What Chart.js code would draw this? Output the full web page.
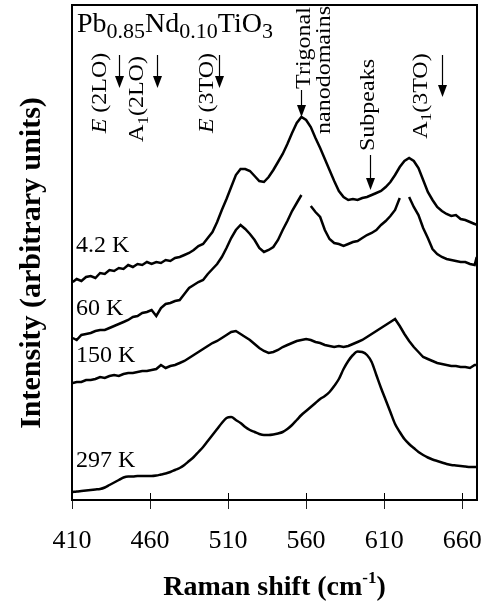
<!DOCTYPE html>
<html>
<head>
<meta charset="utf-8">
<title>Raman spectra Pb0.85Nd0.10TiO3</title>
<script src="https://cdn.jsdelivr.net/npm/chart.js@4.4.0/dist/chart.umd.min.js"></script>
<style>
    html, body { margin: 0; padding: 0; background: #fff; }
    #wrap { width: 482px; height: 610px; }
</style>
</head>
<body>
<div id="wrap"><canvas id="ramanChart"></canvas></div>
<script>
// Raman shift (cm-1) sample points, shared by all four spectra
const shiftCm = [410.5, 413, 416, 419, 422, 425, 428, 431, 434, 437, 440, 443, 446, 449, 452, 455, 458, 461, 464, 467,
    470, 473, 476, 479, 482, 485, 488, 491, 494, 497, 500, 503, 506, 509, 512, 515, 518, 521, 524, 527,
    530, 533, 536, 539, 542, 545, 548, 551, 554, 557, 560, 563, 566, 569, 572, 575, 578, 581, 584, 587,
    590, 593, 596, 599, 602, 605, 608, 611, 614, 617, 620, 623, 626, 629, 632, 635, 638, 641, 644, 647,
    650, 653, 656, 659, 662, 665, 668, 669.3];

// Intensities (arbitrary units, curves already offset as in the figure)
const int4K = [218, 221, 219, 223, 224, 222, 227, 226, 230, 229, 232, 231, 235, 233, 236, 235, 238, 236, 238, 237,
    240, 239, 242, 243, 245, 247, 250, 254, 256, 262, 268, 278, 290, 301, 313, 325, 331, 331, 329, 324,
    319, 318, 323, 330, 338, 346, 356, 367, 377, 383, 380, 373, 362, 352, 341, 330, 319, 309, 303, 300,
    301, 300, 302, 303, 305, 307, 309, 313, 318, 325, 333, 339, 342, 339, 332, 320, 308, 300, 293, 289,
    286, 284, 285, 281, 280, 278, 276, 275];
const int60K = [162, 160, 165, 166, 167, 169, 170, 170, 172, 174, 176, 178, 180, 183, 184, 187, 188, 190, 184, 192,
    196, 197, 199, 200, 206, 212, 215, 218, 220, 226, 231, 236, 243, 252, 262, 270, 275, 271, 266, 260,
    252, 248, 250, 253, 260, 270, 279, 289, 297, 305, null, 294, 288, 283, 270, 261, 257, 256, 254, 256,
    258, 259, 262, 265, 267, 270, 275, 279, 284, 290, 302, null, 303, 293, 285, 272, 262, 251, 246, 243,
    241, 240, 239, 238, 238, 236, 235, 243];
const int150K = [117, 118, 118, 120, 120, 121, 123, 122, 124, 125, 124, 126, 127, 127, 128, 129, 129, 130, 131, 135,
    132, 134, 135, 137, 139, 142, 145, 148, 151, 154, 157, 159, 162, 165, 168, 169, 166, 163, 160, 156,
    152, 149, 147, 148, 150, 153, 155, 157, 159, 160, 161, 160, 158, 157, 155, 154, 153, 154, 153, 154,
    156, 158, 160, 163, 166, 169, 172, 175, 178, 181, 174, 166, 159, 153, 148, 143, 141, 139, 137, 136,
    135, 134, 134, 133, 133, 132, 135, 135];
const int297K = [8, 8.5, 9, 9.5, 10, 10.5, 11, 12.5, 15, 17.5, 20, 22.5, 23.5, 23.5, 24, 24, 24, 24, 24.5, 25.5,
    26.5, 28, 30, 32, 35, 39, 43, 48, 53, 59, 65, 71, 77, 82, 83, 80, 77, 73, 70, 68,
    66, 65, 65, 65.5, 66.5, 68, 71, 75, 80, 85, 89, 93, 97, 101, 104, 108, 114, 121, 131, 139,
    145, 148.5, 148, 145, 138, 125, 112, 100, 88, 76, 68, 61, 56, 52, 48, 45, 42.5, 40.5, 39, 37.5,
    36, 35, 34.5, 34, 33.5, 33, 33, 33];

const xTicks = [410, 460, 510, 560, 610, 660];

// Temperature labels and the intensity of their baselines
const tempLabels = ['4.2 K', '60 K', '150 K', '297 K'];
const tempLabelY = [248, 185, 138, 33];

// Mode markers: arrow position (cm-1), arrow top and tip (intensity units)
const modeShift = [440, 464.5, 504.5, 556.5, 601, 647];
const arrowTop = [445, 445, 445, 410, 345, 445];
const arrowTip = [412, 412, 412, 383, 310, 403];

const serif = "'Liberation Serif', 'Times New Roman', serif";

function pairs(xs, ys) {
    return xs.map((x, i) => ({ x: x, y: ys[i] }));
}

function spectrum(values, smooth) {
    return {
        data: pairs(shiftCm, values),
        borderColor: '#000',
        borderWidth: 2.5,
        pointRadius: 0,
        fill: false,
        spanGaps: false,
        tension: smooth ? 0.4 : 0,
        cubicInterpolationMode: smooth ? 'monotone' : 'default'
    };
}

// draws a run of text pieces (italic / subscript / superscript) along the baseline y
function drawRich(ctx, parts, x, y, size, bold, center) {
    const fontFor = p => {
        const s = p.sub || p.sup ? Math.round(size * (p.scale || 0.72)) : size;
        return (p.it ? 'italic ' : '') + (bold ? 'bold ' : '') + s + 'px ' + serif;
    };
    let total = 0;
    parts.forEach(p => { ctx.font = fontFor(p); total += ctx.measureText(p.t).width; });
    let cx = center ? x - total / 2 : x;
    parts.forEach(p => {
        ctx.font = fontFor(p);
        const dy = p.sub ? size * 0.22 : p.sup ? -size * 0.42 : 0;
        ctx.fillText(p.t, cx, y + dy);
        cx += ctx.measureText(p.t).width;
    });
}

const modeText = [
    { parts: [{ t: 'E', it: true }, { t: ' (2LO)' }], dx: -13, cy: 93 },
    { parts: [{ t: 'A' }, { t: '1', sub: true }, { t: '(2LO)' }], dx: -14, cy: 99 },
    { parts: [{ t: 'E', it: true }, { t: ' (3TO)' }], dx: -6, cy: 93 },
    { parts: [{ t: 'Trigonal' }], dx: 9, cy: 48 },
    { parts: [{ t: 'nanodomains' }], dx: 29, cy: 70, ref: 3 },
    { parts: [{ t: 'Subpeaks' }], dx: 4, cy: 105, ref: 4 },
    { parts: [{ t: 'A' }, { t: '1', sub: true }, { t: '(3TO)' }], dx: -15, cy: 96, ref: 5 }
];

const annotatePlugin = {
    id: 'annotate',
    afterDraw(chart) {
        const { ctx, chartArea: a, scales: { x, y } } = chart;
        ctx.save();
        ctx.fillStyle = '#000';
        ctx.strokeStyle = '#000';

        // frame
        ctx.lineWidth = 2;
        ctx.strokeRect(a.left, a.top, a.right - a.left, a.bottom - a.top);

        // tick marks inside the frame
        ctx.lineWidth = 1;
        xTicks.forEach(v => {
            const px = Math.round(x.getPixelForValue(v)) + 0.5;
            ctx.beginPath();
            ctx.moveTo(px, a.bottom - 7);
            ctx.lineTo(px, a.bottom);
            ctx.stroke();
        });

        // compound name
        ctx.textAlign = 'left';
        ctx.textBaseline = 'alphabetic';
        drawRich(ctx, [
            { t: 'Pb' }, { t: '0.85', sub: true, scale: 0.79 }, { t: 'Nd' }, { t: '0.10', sub: true, scale: 0.79 },
            { t: 'TiO' }, { t: '3', sub: true, scale: 0.79 }
        ], a.left + 5, a.top + 27, 28, false, false);

        // temperature labels
        ctx.font = '24px ' + serif;
        tempLabels.forEach((t, i) => ctx.fillText(t, a.left + 4, y.getPixelForValue(tempLabelY[i])));

        // arrows
        ctx.lineWidth = 1.2;
        modeShift.forEach((s, i) => {
            const px = Math.round(x.getPixelForValue(s)) + 0.5;
            const top = y.getPixelForValue(arrowTop[i]);
            const tip = y.getPixelForValue(arrowTip[i]);
            ctx.beginPath();
            ctx.moveTo(px, top);
            ctx.lineTo(px, tip - 10);
            ctx.stroke();
            ctx.beginPath();
            ctx.moveTo(px - 4.5, tip - 12);
            ctx.lineTo(px + 4.5, tip - 12);
            ctx.lineTo(px, tip);
            ctx.closePath();
            ctx.fill();
        });

        // rotated mode names (glyphs a little narrower than they are long, as in the figure)
        modeText.forEach((m, i) => {
            const k = m.ref !== undefined ? m.ref : i;
            const bx = x.getPixelForValue(modeShift[k]) + m.dx;
            ctx.save();
            ctx.translate(bx, m.cy);
            ctx.rotate(-Math.PI / 2);
            ctx.scale(1, 0.85);
            drawRich(ctx, m.parts, 0, 0, 24, false, true);
            ctx.restore();
        });

        // y axis title
        ctx.save();
        ctx.translate(40, 263);
        ctx.rotate(-Math.PI / 2);
        ctx.textAlign = 'center';
        ctx.font = 'bold 30px ' + serif;
        ctx.fillText('Intensity (arbitrary units)', 0, 0);
        ctx.restore();

        // x axis title with superscript
        drawRich(ctx, [{ t: 'Raman shift (cm' }, { t: '-1', sup: true, scale: 0.62 }, { t: ')' }],
            (a.left + a.right) / 2, a.bottom + 95, 28, true, true);

        ctx.restore();
    }
};

new Chart(document.getElementById('ramanChart'), {
    type: 'line',
    data: {
        datasets: [spectrum(int4K), spectrum(int60K), spectrum(int150K), spectrum(int297K, true)]
    },
    options: {
        responsive: true,
        maintainAspectRatio: false,
        animation: false,
        layout: { padding: { top: 5, right: 5, left: 0, bottom: 0 } },
        plugins: {
            legend: { display: false },
            tooltip: { enabled: false }
        },
        scales: {
            x: {
                type: 'linear',
                min: 410,
                max: 669.5,
                afterBuildTicks: s => { s.ticks = xTicks.map(v => ({ value: v })); },
                afterFit: s => { s.height = 110; s.paddingLeft = 0; s.paddingRight = 0; },
                grid: { drawOnChartArea: false, drawTicks: true, tickLength: 9, color: '#222', lineWidth: 1 },
                border: { display: false },
                ticks: {
                    color: '#000',
                    padding: 17,
                    maxRotation: 0,
                    font: { family: serif, size: 26 }
                },
                title: { display: false }
            },
            y: {
                min: 0,
                max: 495,
                afterFit: s => { s.width = 72; },
                grid: { display: false },
                border: { display: false },
                ticks: { display: false },
                title: { display: false }
            }
        }
    },
    plugins: [annotatePlugin]
});
</script>
</body>
</html>
